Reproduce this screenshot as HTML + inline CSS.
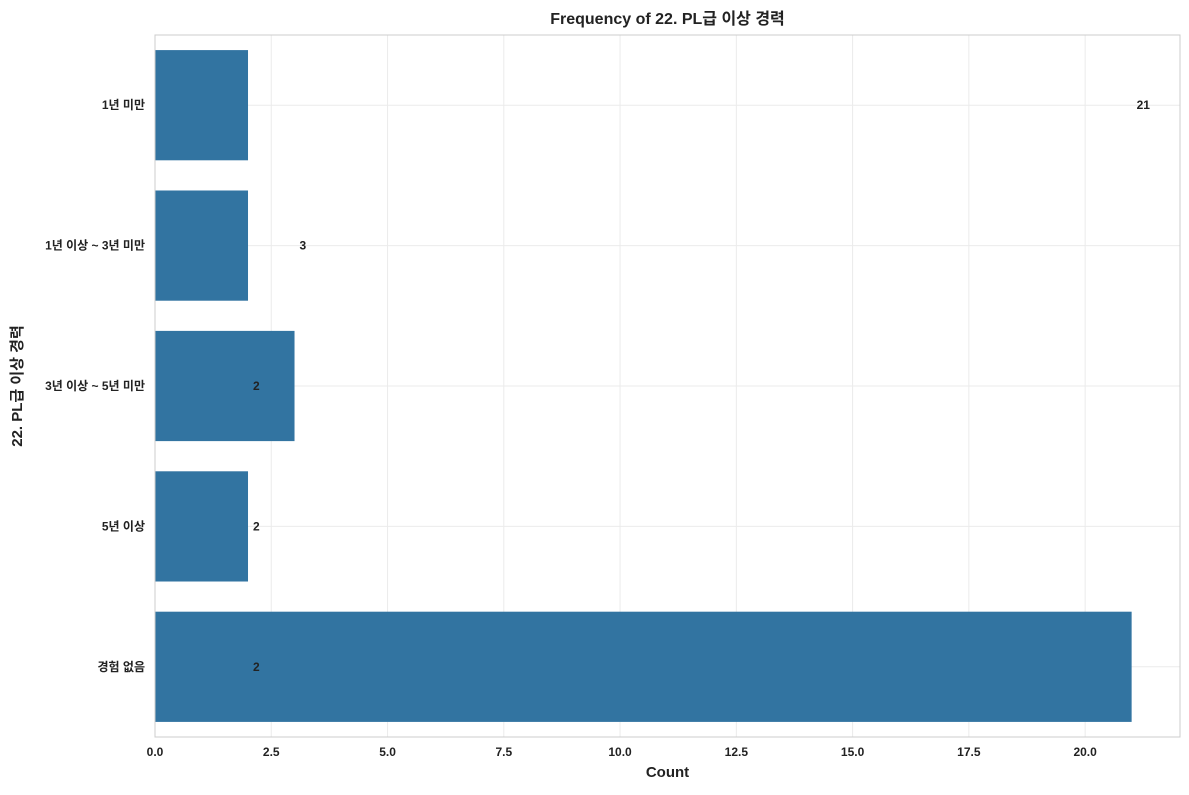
<!DOCTYPE html>
<html><head><meta charset="utf-8"><style>
body{margin:0;background:#fff;font-family:"Liberation Sans","Noto Sans CJK KR",sans-serif;}
svg text{font-family:"Liberation Sans","Noto Sans CJK KR",sans-serif;}
</style></head><body>
<svg id="chart" width="1189" height="790" xmlns="http://www.w3.org/2000/svg"></svg>
<script>
const categories=["1년 미만","1년 이상 ~ 3년 미만","3년 이상 ~ 5년 미만","5년 이상","경험 없음"];
const counts=[2,2,3,2,21];
const barLabels=[21,3,2,2,2];
const xTicks=[0,2.5,5,7.5,10,12.5,15,17.5,20];
const xTickLabels=["0.0","2.5","5.0","7.5","10.0","12.5","15.0","17.5","20.0"];
const L=155,R=1180,T=35,B=737,XMAX=22.04;
const svg=document.getElementById('chart');
const NS='http://www.w3.org/2000/svg';
const xs=v=>L+v/XMAX*(R-L);
const band=(B-T)/categories.length;
const yc=i=>T+band*(i+0.5);
function mk(tag,attrs,parent){const e=document.createElementNS(NS,tag);for(const k in attrs)e.setAttribute(k,attrs[k]);(parent||svg).appendChild(e);return e;}
xTicks.forEach((t,i)=>{
  const g=mk('line',{x1:xs(t),x2:xs(t),y1:T,y2:B,stroke:'#ebebeb','stroke-width':1});
  
  
  const tk=mk('text',{x:xs(t),y:B+19,'text-anchor':'middle','font-size':12,'font-weight':'bold',fill:'#222'});
  tk.textContent=xTickLabels[i];
  
  
});
categories.forEach((c,i)=>{
  const g=mk('line',{x1:L,x2:R,y1:yc(i),y2:yc(i),stroke:'#ebebeb','stroke-width':1});
  
  
});
categories.forEach((c,i)=>{
  const h=band*0.785;
  const r=mk('rect',{x:L,y:yc(i)-h/2,width:xs(counts[i])-L,height:h,fill:'#3274a1'});
  
  
  const t=mk('text',{x:L-10,y:yc(i)+4,'text-anchor':'end','font-size':12,'font-weight':'bold',fill:'#222'});
  t.textContent=c;
  
  
  const v=mk('text',{x:xs(barLabels[i])+5,y:yc(i)+4,'font-size':12,'font-weight':'bold',fill:'#222'});
  v.textContent=barLabels[i];
  
  
});
const fr=mk('rect',{x:L,y:T,width:R-L,height:B-T,fill:'none',stroke:'#ccc'});


const ti=mk('text',{x:(L+R)/2,y:24,'text-anchor':'middle','font-size':16,'font-weight':'bold',fill:'#222'});
ti.textContent='Frequency of 22. PL급 이상 경력';


const xl=mk('text',{x:(L+R)/2,y:777,'text-anchor':'middle','font-size':15,'font-weight':'bold',fill:'#222'});
xl.textContent='Count';


const yl=mk('text',{x:22,y:(T+B)/2,'text-anchor':'middle','font-size':15,'font-weight':'bold',fill:'#222',transform:`rotate(-90 22 ${(T+B)/2})`});
yl.textContent='22. PL급 이상 경력';


</script>
</body></html>
